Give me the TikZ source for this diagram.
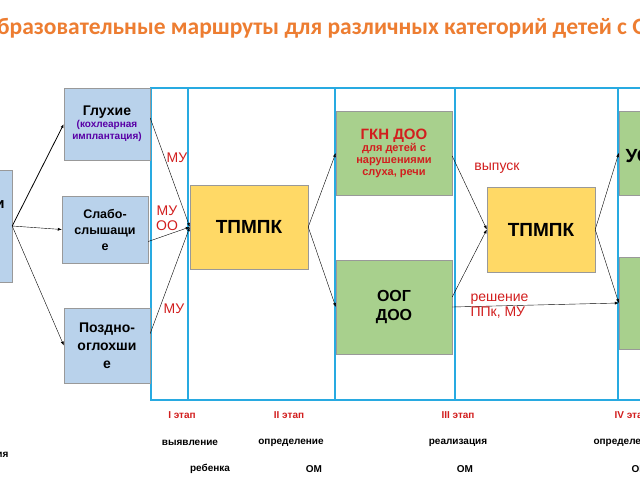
\documentclass[tikz,border=0pt]{standalone}
\usepackage{fontspec}
\setmainfont{Liberation Sans}
\newfontfamily\titlefont{Carlito}
\usetikzlibrary{arrows.meta}
\definecolor{boxblue}{RGB}{185,210,235}
\definecolor{boxgreen}{RGB}{168,208,141}
\definecolor{boxyellow}{RGB}{255,217,102}
\definecolor{framecol}{RGB}{40,170,225}
\definecolor{titlecol}{RGB}{237,125,49}
\definecolor{labred}{RGB}{210,30,30}
\tikzset{
  catbox/.style={draw=gray!80, fill=boxblue, align=center, font=\bfseries},
  orgbox/.style={draw=gray!80, fill=boxgreen, align=center, font=\bfseries},
  pmpk/.style={draw=gray!80, fill=boxyellow, font=\fontsize{19}{22}\selectfont\bfseries},
  route/.style={-{Latex[length=4pt]}, thin},
  mark label/.style={text=labred, font=\fontsize{14}{15}\selectfont, align=left},
  stage/.style={text=labred, font=\fontsize{10}{12}\selectfont\bfseries},
  stagetxt/.style={font=\fontsize{10}{12}\selectfont\bfseries}
}
\begin{document}
\begin{tikzpicture}[x=1pt,y=-1pt]
  \useasboundingbox (0,0) rectangle (640,480);
  \clip (0,0) rectangle (640,480);
  \fill[white] (0,0) rectangle (640,480);

  \node[titlecol, font=\titlefont\bfseries\fontsize{23.5}{26}\selectfont] (title) at (327,28)
    {Образовательные маршруты для различных категорий детей с ОВЗ};

  % stage frames
  \foreach \xa/\xb in {151/188, 188/335, 335/455, 455/618, 618/700}
    \draw[framecol, line width=1.8pt] (\xa,88) rectangle (\xb,400);

  % children
  \node[catbox, minimum width=52pt, minimum height=112pt] (kids) at (-14,226) {};
  \node[font=\fontsize{15}{18}\selectfont\bfseries, anchor=east] at (8,205) {ги};
  \node[catbox, minimum width=86pt, minimum height=72pt] (deaf) at (107,124)
    {\fontsize{14}{16}\selectfont Глухие\\{\fontsize{10}{11}\selectfont\color{violet!70!blue}(кохлеарная}\\{\fontsize{10}{11}\selectfont\color{violet!70!blue}имплантация)}};
  \node[catbox, minimum width=86pt, minimum height=67pt, font=\fontsize{12.5}{16}\selectfont\bfseries] (hard) at (105,229.5)
    {Слабо-\\слышащи\\е};
  \node[catbox, minimum width=86pt, minimum height=75pt, font=\fontsize{14}{18}\selectfont\bfseries] (late) at (107,345.5)
    {Поздно-\\оглохши\\е};

  % commissions and institutions
  \node[pmpk, minimum width=118pt, minimum height=84pt] (tpmpk1) at (249,227) {ТПМПК};
  \node[orgbox, minimum width=116pt, minimum height=84pt] (gkn) at (394,153)
    {{\fontsize{15}{17}\selectfont\color{labred}ГКН ДОО}\\{\fontsize{11}{13}\selectfont\color{labred}для детей с}\\{\fontsize{11}{13}\selectfont\color{labred}нарушениями}\\{\fontsize{11}{13}\selectfont\color{labred}слуха, речи}};
  \node[orgbox, minimum width=116pt, minimum height=94pt, font=\fontsize{16}{19}\selectfont\bfseries] (oog) at (394,307)
    {ООГ\\ДОО};
  \node[pmpk, minimum width=108pt, minimum height=85pt] (tpmpk2) at (541,229.5) {ТПМПК};
  \node[orgbox, minimum width=60pt, minimum height=84pt] (out1) at (649,153) {};
  \node[font=\fontsize{19}{22}\selectfont\bfseries, anchor=west] at (622,156) {УО};
  \node[orgbox, minimum width=60pt, minimum height=92pt] (out2) at (649,303) {};

  % routes
  \draw[route, thick] (kids.east) -- (deaf.west);
  \draw[route] (kids.east) -- (hard.west);
  \draw[route] (kids.east) -- (late.west);
  \draw[route] ([yshift=6pt]deaf.east) -- (tpmpk1.west);
  \draw[route] ([yshift=-12pt]hard.east) -- (tpmpk1.west);
  \draw[route] ([yshift=12pt]late.east) -- (tpmpk1.west);
  \draw[route] (tpmpk1.east) -- (gkn.west);
  \draw[route] (tpmpk1.east) -- (oog.west);
  \draw[route] ([yshift=-3pt]gkn.east) -- (tpmpk2.west);
  \draw[route] ([yshift=10pt]oog.east) -- (tpmpk2.west);
  \draw[route] (oog.east) -- (out2.west);
  \draw[route] (tpmpk2.east) -- (out1.west);
  \draw[route] (tpmpk2.east) -- (out2.west);

  % route labels
  \node[mark label] (mu1) at (177,158) {МУ};
  \node[mark label, align=center] (mu2) at (167,218) {МУ\\ОО};
  \node[mark label] (mu3) at (174,309) {МУ};
  \node[mark label] (release) at (497,168) {выпуск};
  \node[mark label, anchor=west] (decision) at (467,306) {решение\\ППк, МУ};

  % stages
  \node[stage, anchor=east] at (4,430) {ни};
  \node[stagetxt, anchor=east] at (12,455) {ния};
  \node[stage] (st1) at (182,415) {I этап};
  \node[stage] (st2) at (289,415) {II этап};
  \node[stage] (st3) at (458,415) {III этап};
  \node[stage, anchor=west] (st4) at (611,415) {IV этап};
  \node[stagetxt] at (190,443) {выявление};
  \node[stagetxt] at (291,443) {определение};
  \node[stagetxt] at (458,443) {реализация};
  \node[stagetxt, anchor=west] at (590,443) {определение};
  \node[stagetxt] at (210,469) {ребенка};
  \node[stagetxt] at (314,469) {ОМ};
  \node[stagetxt] at (465,469) {ОМ};
  \node[stagetxt, anchor=west] at (628,469) {ОМ};
\end{tikzpicture}
\end{document}
